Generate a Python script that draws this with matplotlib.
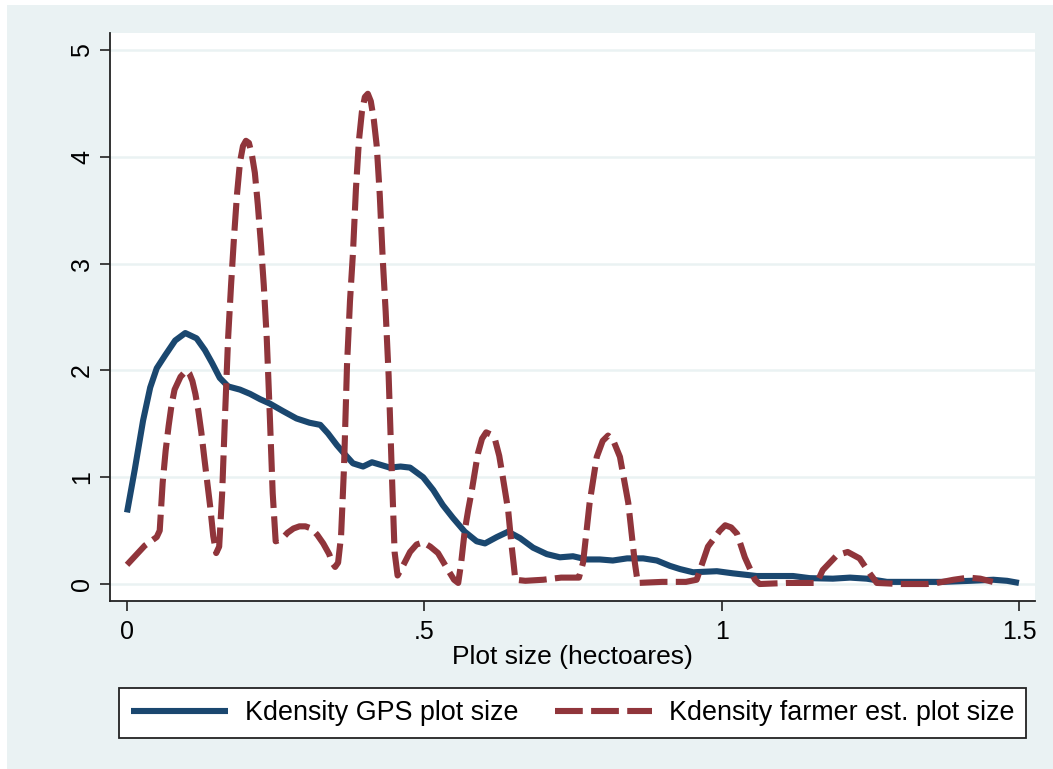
import matplotlib
matplotlib.use("Agg")
import matplotlib.pyplot as plt
from matplotlib.patches import Rectangle

# kernel density of plot size, GPS measurement
gps_x = [0.000, 0.013, 0.027, 0.039, 0.050, 0.064, 0.081, 0.098, 0.117, 0.131,
         0.143, 0.156, 0.170, 0.190, 0.207, 0.224, 0.240, 0.262, 0.285, 0.307,
         0.325, 0.338, 0.353, 0.367, 0.380, 0.397, 0.412, 0.442, 0.460, 0.476,
         0.498, 0.515, 0.531, 0.548, 0.568, 0.588, 0.602, 0.622, 0.641, 0.661,
         0.683, 0.706, 0.728, 0.750, 0.773, 0.795, 0.817, 0.841, 0.868, 0.891,
         0.913, 0.930, 0.952, 0.992, 1.019, 1.059, 1.093, 1.120, 1.148, 1.187,
         1.216, 1.244, 1.278, 1.317, 1.372, 1.418, 1.457, 1.480, 1.500]
gps_y = [0.67, 1.07, 1.53, 1.84, 2.02, 2.14, 2.28, 2.35, 2.30, 2.19,
         2.07, 1.93, 1.85, 1.82, 1.78, 1.73, 1.69, 1.62, 1.55, 1.51,
         1.49, 1.41, 1.30, 1.21, 1.13, 1.10, 1.14, 1.09, 1.10, 1.09,
         1.00, 0.88, 0.74, 0.62, 0.49, 0.40, 0.38, 0.44, 0.49, 0.43,
         0.34, 0.28, 0.25, 0.26, 0.23, 0.23, 0.22, 0.24, 0.24, 0.22,
         0.17, 0.14, 0.11, 0.12, 0.10, 0.075, 0.075, 0.075, 0.055, 0.05,
         0.06, 0.05, 0.02, 0.02, 0.02, 0.03, 0.04, 0.03, 0.01]

# kernel density of plot size, farmer estimate
farmer_x = [0.000, 0.010, 0.020, 0.030, 0.040, 0.050, 0.055, 0.060, 0.065, 0.070,
            0.075, 0.080, 0.090, 0.100, 0.105, 0.110, 0.115, 0.120, 0.125, 0.130,
            0.135, 0.140, 0.145, 0.150, 0.155, 0.160, 0.165, 0.170, 0.175, 0.180,
            0.185, 0.190, 0.195, 0.200, 0.205, 0.210, 0.215, 0.220, 0.225, 0.230,
            0.235, 0.240, 0.245, 0.250, 0.260, 0.270, 0.280, 0.290, 0.300, 0.310,
            0.320, 0.330, 0.340, 0.345, 0.350, 0.355, 0.360, 0.365, 0.370, 0.375,
            0.380, 0.385, 0.390, 0.395, 0.400, 0.405, 0.410, 0.415, 0.420, 0.425,
            0.430, 0.435, 0.440, 0.445, 0.450, 0.455, 0.465, 0.476, 0.487, 0.498,
            0.510, 0.523, 0.540, 0.550, 0.557, 0.562, 0.568, 0.574, 0.580, 0.590,
            0.597, 0.604, 0.612, 0.619, 0.626, 0.632, 0.641, 0.646, 0.650, 0.653,
            0.670, 0.700, 0.730, 0.760, 0.767, 0.778, 0.790, 0.800, 0.809, 0.818,
            0.829, 0.843, 0.854, 0.859, 0.900, 0.940, 0.958, 0.977, 0.997, 1.006,
            1.016, 1.026, 1.039, 1.056, 1.064, 1.110, 1.160, 1.170, 1.194, 1.212,
            1.232, 1.249, 1.261, 1.300, 1.345, 1.362, 1.390, 1.415, 1.435, 1.456]
farmer_y = [0.18, 0.24, 0.30, 0.36, 0.40, 0.44, 0.50, 0.95, 1.25, 1.48,
            1.68, 1.82, 1.94, 2.00, 1.97, 1.90, 1.78, 1.62, 1.42, 1.18,
            0.95, 0.72, 0.45, 0.29, 0.35, 0.85, 1.60, 2.30, 2.80, 3.25,
            3.65, 3.95, 4.10, 4.15, 4.13, 4.02, 3.85, 3.55, 3.20, 2.80,
            2.30, 1.60, 0.85, 0.40, 0.42, 0.48, 0.52, 0.54, 0.54, 0.52,
            0.46, 0.38, 0.28, 0.20, 0.16, 0.20, 0.45, 1.10, 2.05, 2.65,
            3.10, 3.70, 4.15, 4.42, 4.56, 4.59, 4.52, 4.35, 4.10, 3.65,
            3.05, 2.55, 1.95, 1.10, 0.30, 0.08, 0.18, 0.30, 0.37, 0.39,
            0.35, 0.29, 0.13, 0.04, 0.01, 0.20, 0.50, 0.70, 0.88, 1.22,
            1.36, 1.42, 1.40, 1.35, 1.20, 1.00, 0.69, 0.40, 0.20, 0.04,
            0.03, 0.04, 0.06, 0.06, 0.20, 0.76, 1.19, 1.34, 1.39, 1.34,
            1.19, 0.76, 0.20, 0.01, 0.02, 0.02, 0.04, 0.35, 0.50, 0.55,
            0.53, 0.47, 0.25, 0.04, 0.00, 0.01, 0.01, 0.13, 0.27, 0.30,
            0.24, 0.10, 0.01, 0.00, 0.00, 0.01, 0.04, 0.06, 0.05, 0.02]

x_ticks = [0, 0.5, 1, 1.5]
x_tick_labels = ["0", ".5", "1", "1.5"]
y_ticks = [0, 1, 2, 3, 4, 5]

navy = "#1a476f"
maroon = "#90353b"
bg = "#eaf2f3"

plt.rcParams["font.family"] = ["Liberation Sans", "DejaVu Sans"]
plt.rcParams["lines.scale_dashes"] = False

fig = plt.figure(figsize=(10.53, 7.69), dpi=100, facecolor="white")
# shaded outer region, leaving a thin white strip on the top and left
fig.patches.append(Rectangle((7 / 1053, 0), 1, 1 - 5 / 769, transform=fig.transFigure,
                             facecolor=bg, edgecolor="none", zorder=-10))

ax = fig.add_axes([110 / 1053, 1 - 601 / 769, 925 / 1053, 568 / 769])
ax.set_facecolor("white")

ax.plot(gps_x, gps_y, color=navy, lw=4.4, solid_joinstyle="round",
        solid_capstyle="butt", label="Kdensity GPS plot size", zorder=3)
ax.plot(farmer_x, farmer_y, color=maroon, lw=4.4, dashes=(20, 6),
        dash_capstyle="butt", label="Kdensity farmer est. plot size", zorder=3)

ax.set_xlim(-0.0286, 1.527)
ax.set_ylim(-0.159, 5.159)
ax.set_xticks(x_ticks)
ax.set_xticklabels(x_tick_labels)
ax.set_yticks(y_ticks)
ax.set_yticklabels([str(t) for t in y_ticks], rotation=90, va="center")

ax.yaxis.grid(True, color=bg, lw=1.8, zorder=0)
ax.set_axisbelow(True)

for side in ["top", "right"]:
    ax.spines[side].set_visible(False)
for side in ["left", "bottom"]:
    ax.spines[side].set_color("#222222")
    ax.spines[side].set_linewidth(1.3)

ax.tick_params(axis="both", direction="out", length=7.5, width=1.2,
               color="#222222", labelsize=18)
ax.tick_params(axis="y", pad=4)
ax.tick_params(axis="x", pad=6)

ax.set_xlabel("Plot size (hectoares)", fontsize=19, labelpad=1)

leg = fig.legend(loc="upper left", ncol=2,
                 bbox_to_anchor=(119 / 1053, 1 - 688 / 769),
                 fontsize=19.4, handlelength=3.6, handletextpad=0.63,
                 columnspacing=1.34, borderpad=0.45, borderaxespad=0,
                 fancybox=False, frameon=True, edgecolor="#222222",
                 facecolor="white")
leg.get_frame().set_linewidth(1.3)
leg.get_frame().set_alpha(1)

fig.savefig("out.png", dpi=100, facecolor=fig.get_facecolor())
